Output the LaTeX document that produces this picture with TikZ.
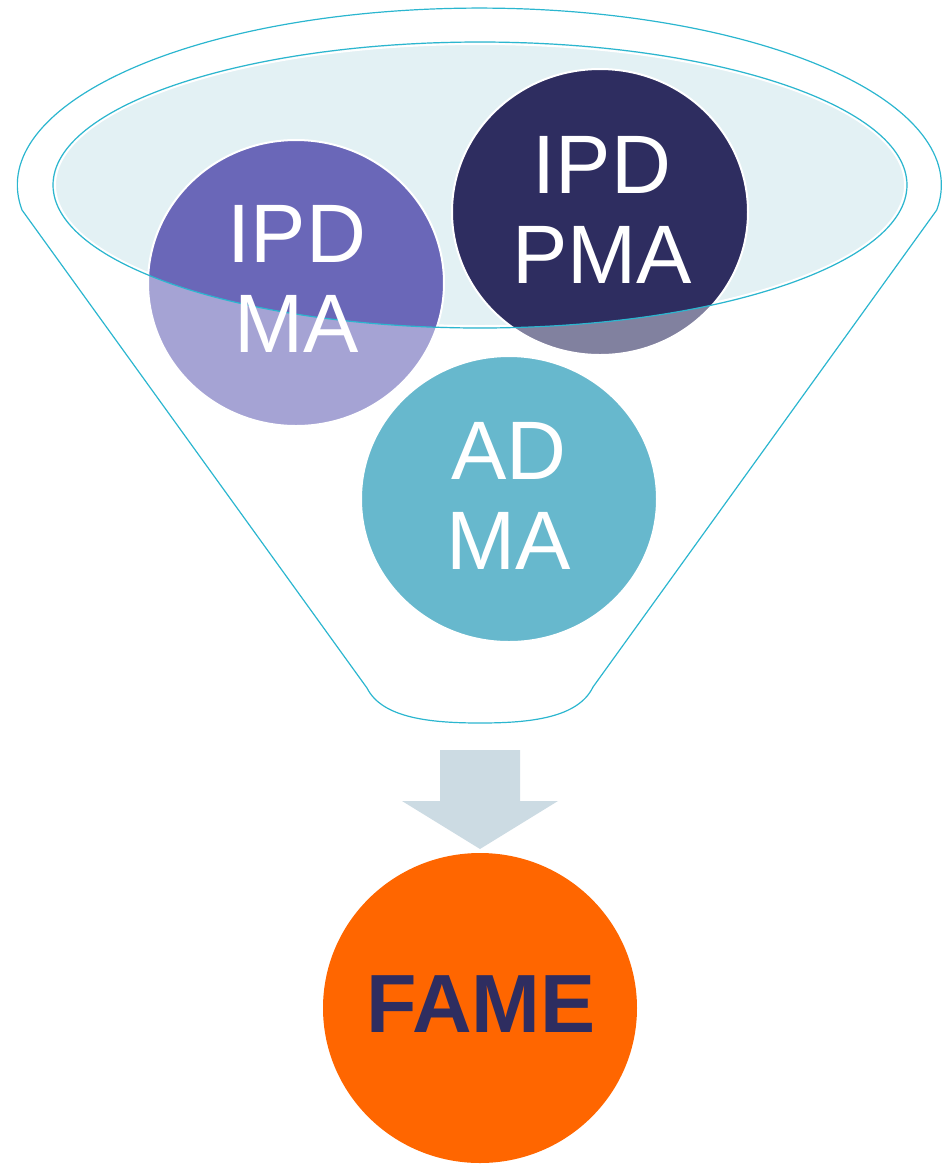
\documentclass[tikz,border=0pt]{standalone}
\usepackage{fontspec}
\setmainfont{Liberation Sans}
\usetikzlibrary{shapes.geometric}

\definecolor{funnelline}{HTML}{2BB6CF}
\definecolor{funnelfill}{HTML}{E3F1F4}
\definecolor{ipdma}{HTML}{6A67B8}
\definecolor{ipdpma}{HTML}{2E2D60}
\definecolor{adma}{HTML}{67B8CD}
\definecolor{fame}{HTML}{FF6600}
\definecolor{arrowfill}{HTML}{CCDBE3}

\tikzset{
  bubble/.style={ellipse, draw=white, line width=1pt, inner sep=0pt, outer sep=0pt,
                 minimum width=148pt, minimum height=143pt},
  bubbletext/.style={text=white, align=center, inner sep=0pt,
                 font=\fontsize{41.5}{45}\selectfont},
  rim/.style={draw=funnelline, line width=0.6pt},
}

\begin{document}
\begin{tikzpicture}[x=0.5pt, y=-0.5pt]
  \useasboundingbox (0,0) rectangle (948,1164);

  % mouth of the funnel
  \fill[funnelfill] (480,185) ellipse [x radius=427, y radius=143];
  \draw[white, line width=1pt] (480,185) ellipse [x radius=425, y radius=141];

  % the two bubbles sitting in the mouth
  \node[bubble, fill=ipdma] (ipdma) at (296,283) {};
  \node[bubble, fill=ipdpma] (ipdpma) at (600,212) {};

  % lower parts of the bubbles, seen through the funnel wall
  \begin{scope}
    \clip (296,283) ellipse [x radius=148, y radius=143];
    \fill[white, opacity=0.4, even odd rule]
      (0,0) rectangle (948,1164) (480,185) ellipse [x radius=427, y radius=143];
  \end{scope}
  \begin{scope}
    \clip (600,212) ellipse [x radius=148, y radius=143];
    \fill[white, opacity=0.4, even odd rule]
      (0,0) rectangle (948,1164) (480,185) ellipse [x radius=427, y radius=143];
  \end{scope}

  % rim of the mouth
  \draw[rim] (480,185) ellipse [x radius=427, y radius=143];

  % outer outline of the funnel
  \draw[rim] (22,210) arc [start angle=171.9, end angle=368.1, x radius=462, y radius=177]
    -- (593,687)
    .. controls (578,718) and (530,723) .. (480,723)
    .. controls (430,723) and (382,718) .. (367,688)
    -- cycle;

  % third bubble, lower in the funnel
  \node[bubble, fill=adma] (adma) at (509,499) {};

  % block arrow down to the result
  \fill[arrowfill] (440,750) -- (520,750) -- (520,801) -- (558,801)
    -- (480,849) -- (402,801) -- (440,801) -- cycle;

  % result
  \node[ellipse, fill=fame, inner sep=0pt, minimum width=157pt, minimum height=155pt]
    (fame) at (480,1008) {};

  % labels
  \node[bubbletext] (ipdma-t) at ([shift={(1,-4)}]ipdma.center) {IPD\\MA};
  \node[bubbletext] (ipdpma-t) at ([shift={(2,-2.5)}]ipdpma.center) {IPD\\PMA};
  \node[bubbletext] (adma-t) at ([shift={(0,-3.5)}]adma.center) {AD\\MA};
  \node[text=ipdpma, inner sep=0pt, font=\fontsize{41.3}{45}\selectfont\bfseries]
    (fame-t) at ([shift={(1,-3.5)}]fame.center) {FAME};
\end{tikzpicture}
\end{document}
